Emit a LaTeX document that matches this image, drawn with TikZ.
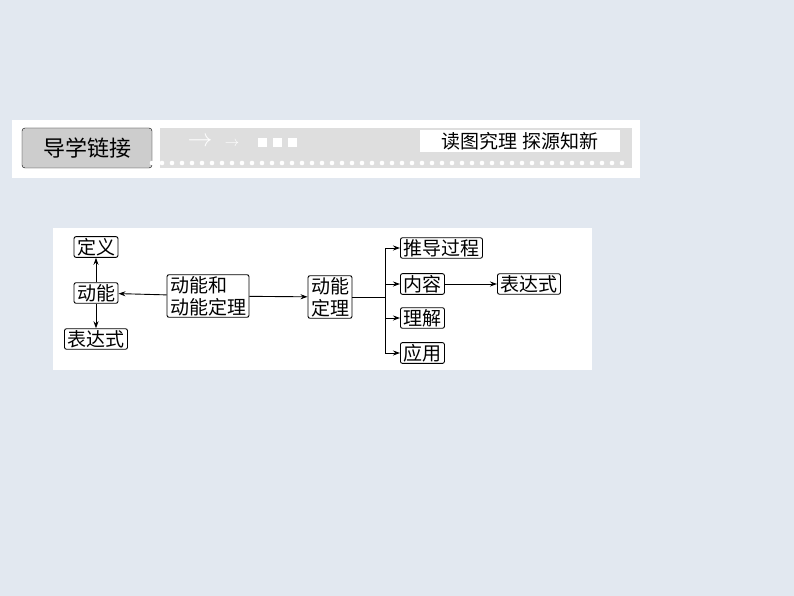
\documentclass[tikz,border=0pt]{standalone}
\usepackage{fontspec}
\newfontfamily\cjk{Noto Sans CJK SC}
\usetikzlibrary{positioning, arrows.meta}
\definecolor{bgblue}{RGB}{226,232,240}
\definecolor{bandgray}{RGB}{222,222,222}
\definecolor{tabgray}{RGB}{205,205,205}
\tikzset{
every node/.style={font=\cjk\fontsize{19}{22}\selectfont},
box/.style={draw, rounded corners=2pt, line width=0.9pt, fill=white, inner xsep=3pt, inner ysep=1.5pt, align=left},
link/.style={-{Stealth[length=7pt,width=5pt]}, line width=0.9pt},
}
\begin{document}
\begin{tikzpicture}[x=1pt, y=-1pt]
    \fill[bgblue] (0,0) rectangle (794,596);
    \useasboundingbox (0,0) rectangle (794,596);

    %header
    \fill[white] (12,120) rectangle (640,178);
    \fill[bandgray] (160,128) rectangle (632,168);
    \node[draw, rounded corners=3pt, fill=tabgray, minimum width=130, minimum height=40,
          font=\cjk\fontsize{22}{24}\selectfont] (tab) at (87,148) {导学链接};
    \node[fill=white, minimum width=200, minimum height=22, inner sep=0pt] (motto) at (520,141) {读图究理\ 探源知新};
    \node[white, font=\fontsize{24}{24}\selectfont] (arr1) at (200,142) {$\rightarrow$};
    \node[white, font=\fontsize{14}{14}\selectfont] (arr2) at (232,144) {$\rightarrow$};
    \foreach \i in {0,1,2} \fill[white] (258+\i*15,138) rectangle ++(9,9);
    \foreach \i in {0,...,47} \fill[white] (152+\i*10,163) circle (2.3);

    %diagram
    \fill[white] (53,228) rectangle (592,370);
    \node[box] (def) at (96,247) {定义};
    \node[box] (ek) at (96,293) {动能};
    \node[box] (exl) at (96,339) {表达式};
    \node[box] (thm) at (208,296) {动能和\\动能定理};
    \node[box] (dt) at (330,297) {动能\\定理};
    \node[box, anchor=west] (der) at (400,248) {推导过程};
    \node[box, anchor=west] (con) at (400,284) {内容};
    \node[box, anchor=west] (exr) at (497,284) {表达式};
    \node[box, anchor=west] (und) at (400,318) {理解};
    \node[box, anchor=west] (app) at (400,353) {应用};
    \coordinate (br) at (385,297);

    \draw[link] (ek) -- (def);
    \draw[link] (ek) -- (exl);
    \draw[link] (thm) -- (ek);
    \draw[link] (thm) -- (dt);
    \draw[line width=0.9pt] (dt) -- (br);
    \draw[line width=0.9pt] (br |- der) -- (br |- app);
    \foreach \n in {der, con, und, app}
        \draw[link] (br |- \n) -- (\n);
    \draw[link] (con) -- (exr);
\end{tikzpicture}
\end{document}
